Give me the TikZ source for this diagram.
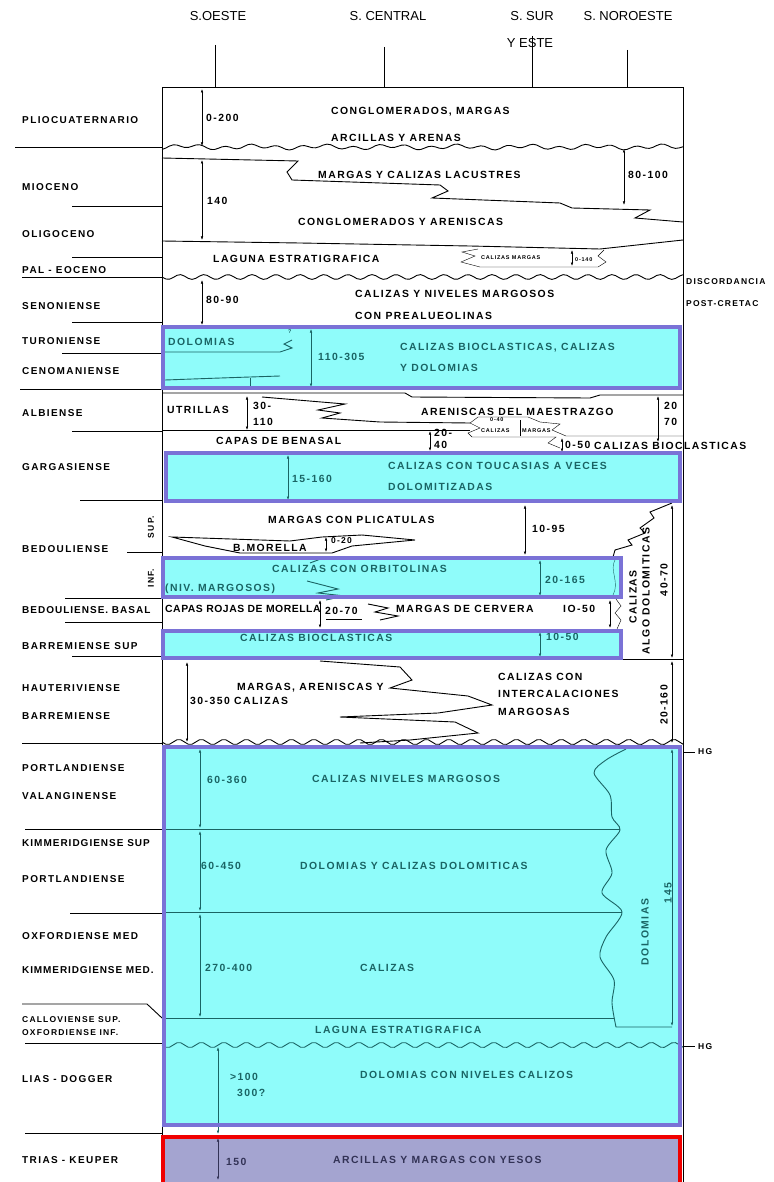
\documentclass[tikz,border=0pt]{standalone}
\usepackage{fontspec}
\setmainfont[LetterSpace=14]{Liberation Sans}
\newfontfamily\hdfam{Liberation Sans}
\usepackage{tikz}
\usetikzlibrary{arrows.meta, calc}

\definecolor{cyanfill}{RGB}{143,252,250}
\definecolor{boxline}{RGB}{122,114,214}
\definecolor{tealink}{RGB}{26,100,100}
\definecolor{lavfill}{RGB}{164,164,208}
\definecolor{lavink}{RGB}{50,50,85}
\definecolor{redline}{RGB}{240,0,0}

\newcommand{\hdfont}{\hdfam\fontsize{13}{15}\selectfont}
\newcommand{\lbfont}{\bfseries\fontsize{10}{12}\selectfont}
\newcommand{\txfont}{\bfseries\fontsize{10.4}{12}\selectfont}
\newcommand{\smfont}{\bfseries\fontsize{8.5}{10}\selectfont}
\newcommand{\mnfont}{\bfseries\fontsize{5.5}{6}\selectfont}
\newcommand{\tight}[1]{\addfontfeature{LetterSpace=#1}}

\tikzset{
  hdr/.style={inner sep=0pt, font=\hdfont},
  stage/.style={anchor=west, inner sep=0pt, font=\lbfont},
  lith/.style={anchor=west, inner sep=0pt, font=\txfont},
  minor/.style={anchor=west, inner sep=0pt, font=\mnfont},
  vlab/.style={inner sep=0pt, rotate=90, font=\txfont},
  bound/.style={line width=0.9pt},
  dim/.style={{Latex[length=3.5pt,width=2.4pt]}-{Latex[length=3.5pt,width=2.4pt]}, line width=0.5pt},
  inbox/.style={color=tealink},
  cline/.style={draw=boxline, line width=3.6pt},
}

\begin{document}
\begin{tikzpicture}[x=1pt,y=-1pt]
  \useasboundingbox (0,0) rectangle (773,1182);
  % column headers
  \node[hdr] (hOeste) at (218,16) {S.OESTE};
  \node[hdr] (hCentral) at (388,16) {S. CENTRAL};
  \node[hdr] (hSur) at (532,16) {S. SUR};
  \node[hdr] (hEste) at (530,43) {Y ESTE};
  \node[hdr] (hNoro) at (628,16) {S. NOROESTE};
  \draw (215,45) -- (215,87);
  \draw (384,47) -- (384,87);
  \draw (532,36) -- (532,87);
  \draw (627,50) -- (627,87);

  % coloured bands (fill only)
  \fill[cyanfill] (163,327) rectangle (680,388);
  \fill[cyanfill] (166,453) rectangle (680,501);
  \fill[cyanfill] (163,558) rectangle (621,597);
  \fill[cyanfill] (163,631) rectangle (621,658);
  \fill[cyanfill] (164,747) rectangle (680,1125);
  \fill[lavfill] (163,1137) rectangle (680,1190);

  % frame
  \coordinate (fTL) at (162,87);
  \coordinate (fTR) at (683,87);
  \draw[bound] (162,1182) -- (fTL) -- (fTR) -- (683,1182);

  % stage names and their lines
  \node[stage] (sPlio) at (22,120) {PLIOCUATERNARIO};
  \node[stage] (sMio) at (22,187) {MIOCENO};
  \node[stage] (sOli) at (22,234) {OLIGOCENO};
  \node[stage] (sPal) at (22,270) {PAL - EOCENO};
  \node[stage] (sSen) at (22,306) {SENONIENSE};
  \node[stage] (sTur) at (22,341) {TURONIENSE};
  \node[stage] (sCen) at (22,371) {CENOMANIENSE};
  \node[stage] (sAlb) at (22,413) {ALBIENSE};
  \node[stage] (sGar) at (22,467) {GARGASIENSE};
  \node[stage] (sBed) at (22,549) {BEDOULIENSE};
  \node[stage, font=\lbfont\tight{10}] (sBedB) at (22,610) {BEDOULIENSE. BASAL};
  \node[stage] (sBarS) at (22,646) {BARREMIENSE SUP};
  \node[stage] (sHau) at (22,688) {HAUTERIVIENSE};
  \node[stage] (sBar) at (22,716) {BARREMIENSE};
  \node[stage] (sPor) at (22,768) {PORTLANDIENSE};
  \node[stage] (sVal) at (22,796) {VALANGINENSE};
  \node[stage, font=\lbfont\tight{10}] (sKimS) at (22,843) {KIMMERIDGIENSE SUP};
  \node[stage] (sPor2) at (22,879) {PORTLANDIENSE};
  \node[stage] (sOxM) at (22,936) {OXFORDIENSE MED};
  \node[stage, font=\lbfont\tight{9}] (sKimM) at (22,970) {KIMMERIDGIENSE MED.};
  \node[stage, font=\smfont] (sCal) at (22,1020) {CALLOVIENSE SUP.};
  \node[stage, font=\smfont] (sOxI) at (22,1033) {OXFORDIENSE INF.};
  \node[stage] (sLias) at (22,1079) {LIAS - DOGGER};
  \node[stage] (sTrias) at (22,1160) {TRIAS - KEUPER};
  \node[vlab, font=\smfont] (sSup) at (151,527) {SUP.};
  \node[vlab, font=\smfont] (sInf) at (151,578) {INF.};
  \draw[bound] (15,147) -- (162,147);
  \draw[bound] (72,206) -- (162,206);
  \draw[bound] (72,257) -- (162,257);
  \draw[bound] (22,277) -- (162,277);
  \draw[bound] (72,322) -- (162,322);
  \draw[bound] (62,353) -- (162,353);
  \draw[bound] (20,389) -- (162,389);
  \draw[bound] (72,431) -- (162,431);
  \draw[bound] (80,500) -- (162,500);
  \draw[bound] (127,552) -- (162,552);
  \draw[bound] (65,598) -- (162,598);
  \draw[bound] (65,622) -- (162,622);
  \draw[bound] (72,656) -- (162,656);
  \draw[bound] (22,743) -- (162,743);
  \draw[bound] (25,829) -- (162,829);
  \draw[bound] (70,913) -- (162,913);
  \draw[bound] (22,1004) -- (147,1004) -- (162,1018);
  \draw[bound] (25,1043) -- (162,1043);
  \draw[bound] (25,1133) -- (162,1133);

  % Pliocuaternario
  \draw[dim] (202,89) -- (202,146);
  \node[lith] (tPlioA) at (206,118) {0-200};
  \node[lith] (tPlioB) at (331,112) {CONGLOMERADOS, MARGAS};
  \node[lith] (tPlioC) at (331,138) {ARCILLAS Y ARENAS};
  \draw[bound] plot[domain=162:683, samples=140] (\x, {147+1.8*sin(14*\x)+1.2*sin(5.3*\x)});

  % Mioceno - Oligoceno
  \node[lith] (tMioA) at (318,175) {MARGAS Y CALIZAS LACUSTRES};
  \node[lith] (tMioB) at (298,222) {CONGLOMERADOS Y ARENISCAS};
  \node[lith] (tMioC) at (207,201) {140};
  \node[lith] (tMioD) at (628,175) {80-100};
  \draw[bound] (162,158) -- (298,161) -- (287,172) -- (292,180) -- (440,185)
    -- (448,191) -- (432,198) -- (560,203) -- (572,208) -- (650,210)
    -- (635,218) -- (683,222);
  \draw[dim] (202,160) -- (202,240);
  \draw[dim] (624,149) -- (624,205);

  % laguna paleogena
  \draw[bound] (162,241) -- (300,243) -- (470,246) -- (600,249) -- (683,240);
  \node[lith] (tLagA) at (213,259) {LAGUNA ESTRATIGRAFICA};
  \draw (478,249) -- (462,252) -- (475,256) -- (461,262) -- (480,267)
    -- (598,267) -- (606,262) -- (598,256) -- (604,250);
  \draw[dim] (572,250) -- (572,266);
  \node[minor] (tLagB) at (481,258) {CALIZAS MARGAS};
  \node[minor] (tLagC) at (575,260) {0-140};
  \draw[bound] plot[domain=162:683, samples=140] (\x, {277+2.4*sin(15*(\x-162))});
  \node[lith, font=\smfont] (tDisA) at (686,282) {DISCORDANCIA};
  \node[lith, font=\smfont] (tDisB) at (686,304) {POST-CRETAC};

  % Senoniense
  \draw[dim] (202,280) -- (202,325);
  \node[lith] (tSenA) at (206,300) {80-90};
  \node[lith] (tSenB) at (355,294) {CALIZAS Y NIVELES MARGOSOS};
  \node[lith] (tSenC) at (355,316) {CON PREALUEOLINAS};

  % Turoniense - Cenomaniense
  \begin{scope}[inbox]
    \node[lith] (tTurA) at (168,342) {DOLOMIAS};
    \draw[bound] (165,352) -- (280,352) -- (292,348) -- (284,344) -- (292,340);
    \node[minor] (tTurQ) at (288,332) {?};
    \draw[bound] (165,380) .. controls (220,378) .. (280,376);
    \draw (250,378) -- (250,389);
    \draw[dim] (311,329) -- (311,387);
    \node[lith] (tTurB) at (318,357) {110-305};
    \node[lith] (tTurC) at (400,348) {CALIZAS BIOCLASTICAS, CALIZAS};
    \node[lith] (tTurD) at (400,368) {Y DOLOMIAS};
  \end{scope}

  % Albiense
  \draw[bound] (162,393) -- (405,393) -- (412,397) -- (590,398) -- (600,395) -- (683,395);
  \node[lith] (tAlbA) at (167,410) {UTRILLAS};
  \draw[dim] (247,396) -- (247,430);
  \node[lith] (tAlbB) at (253,406) {30-};
  \node[lith] (tAlbC) at (253,422) {110};
  \draw[bound] (262,397) -- (345,404) -- (318,410) -- (340,413) -- (322,418)
    -- (380,422) -- (470,423);
  \node[lith] (tAlbD) at (421,412) {ARENISCAS DEL MAESTRAZGO};
  \draw[dim] (658,396) -- (658,442);
  \node[lith] (tAlbE) at (664,406) {20};
  \node[lith] (tAlbF) at (664,422) {70};
  \draw[bound] (162,430) -- (470,430);
  \node[lith] (tAlbG) at (216,441) {CAPAS DE BENASAL};
  \draw[dim] (430,431) -- (430,451);
  \node[lith] (tAlbH) at (434,433) {20-};
  \node[lith] (tAlbI) at (434,445) {40};
  \draw (478,417) -- (528,417) -- (540,422) -- (560,424) -- (552,430)
    -- (566,436) -- (683,436);
  \draw (478,417) -- (470,423) -- (480,428) -- (468,433) -- (472,437) -- (556,437)
    -- (548,443) -- (560,448);
  \draw (520,420) -- (520,436);
  \node[minor] (tAlbJ) at (490,420) {0-40};
  \node[minor] (tAlbK) at (481,431) {CALIZAS};
  \node[minor] (tAlbL) at (522,431) {MARGAS};
  \draw[dim] (562,438) -- (562,452);
  \node[lith] (tAlbM) at (565,445) {0-50};
  \node[lith] (tAlbN) at (594,446) {CALIZAS BIOCLASTICAS};

  % Gargasiense
  \begin{scope}[inbox]
    \draw[dim] (288,455) -- (288,500);
    \node[lith] (tGarA) at (292,479) {15-160};
    \node[lith] (tGarB) at (388,466) {CALIZAS CON TOUCASIAS A VECES};
    \node[lith] (tGarC) at (388,487) {DOLOMITIZADAS};
  \end{scope}

  % Bedouliense superior
  \node[lith] (tBedA) at (268,520) {MARGAS CON PLICATULAS};
  \draw[dim] (525,505) -- (525,555);
  \node[lith] (tBedB) at (532,529) {10-95};
  \draw[bound] (172,537) -- (290,541) -- (322,537) -- (362,535) -- (415,540)
    -- (352,546) -- (332,553) -- (240,553) -- (205,546) -- cycle;
  \node[lith] (tBedC) at (233,548) {B.MORELLA};
  \draw[dim] (326,537) -- (326,552);
  \node[lith, font=\smfont] (tBedD) at (331,541) {0-20};

  % calizas algo dolomiticas (right side)
  \draw[bound] (672,503) -- (650,512) -- (654,518) -- (640,528) -- (645,533)
    -- (628,540) -- (632,545) -- (615,550) -- (613,557);
  \draw (616,599) -- (621,606) -- (615,613) -- (621,620) -- (617,629);
  \node[vlab] (tAlgA) at (633,597) {CALIZAS};
  \node[vlab] (tAlgB) at (646,591) {ALGO DOLOMITICAS};
  \node[vlab] (tAlgC) at (664,580) {40-70};
  \draw[dim] (672,505) -- (672,658);
  \draw[bound] (622,659) -- (683,659);
  \draw[dim] (672,661) -- (672,743);
  \node[vlab] (tAlgD) at (664,705) {20-160};

  % Bedouliense inferior
  \begin{scope}[inbox]
    \node[lith] (tOrbA) at (272,569) {CALIZAS CON ORBITOLINAS};
    \node[lith] (tOrbB) at (165,589) {(NIV. MARGOSOS)};
    \draw[bound] (312,557) -- (318,560) -- (310,563);
    \draw[bound] (307,581) -- (338,589) -- (318,593) -- (345,596) -- (326,600);
    \draw[dim] (540,560) -- (540,596);
    \node[lith] (tOrbC) at (545,580) {20-165};
    \draw (615,560) .. controls (609,570) and (620,582) .. (613,595);
  \end{scope}

  % Bedouliense basal
  \node[lith, font=\txfont\tight{5}] (tBasA) at (165,609) {CAPAS ROJAS DE MORELLA};
  \draw[dim] (320,600) -- (320,628);
  \node[lith] (tBasB) at (325,611) {20-70};
  \draw (326,619) -- (362,619);
  \draw[bound] (368,604) -- (388,608) -- (375,612) -- (398,616) -- (380,620);
  \node[lith] (tBasC) at (396,609) {MARGAS DE CERVERA};
  \node[lith] (tBasD) at (563,609) {IO-50};
  \draw[dim] (610,600) -- (610,628);

  % Barremiense superior
  \begin{scope}[inbox]
    \node[lith] (tBsA) at (240,638) {CALIZAS BIOCLASTICAS};
    \draw[dim] (540,632) -- (540,657);
    \node[lith] (tBsB) at (546,637) {10-50};
  \end{scope}

  % Hauteriviense - Barremiense
  \draw[dim] (187,662) -- (187,742);
  \node[lith] (tHauA) at (237,688) {MARGAS, ARENISCAS Y};
  \node[lith] (tHauB) at (190,701) {30-350 CALIZAS};
  \draw[bound] (320,661) -- (400,667) -- (412,680) -- (390,688) -- (468,696)
    -- (492,705) -- (438,713) -- (340,717) -- (455,722) -- (478,733)
    -- (410,740) -- (360,743);
  \node[lith] (tHauC) at (498,677) {CALIZAS CON};
  \node[lith] (tHauD) at (498,694) {INTERCALACIONES};
  \node[lith] (tHauE) at (498,712) {MARGOSAS};
  \draw[bound] plot[domain=162:683, samples=140] (\x, {742+2.6*sin(16*(\x-162))});
  \draw (683,752) -- (695,752);
  \node[minor, font=\smfont] (tHgA) at (698,752) {HG};

  % Jurasico
  \begin{scope}[inbox]
    \draw[dim] (200,749) -- (200,828);
    \node[lith] (tJurA) at (207,780) {60-360};
    \node[lith] (tJurB) at (312,779) {CALIZAS NIVELES MARGOSOS};
    \draw[bound] (162,829) -- (620,829);
    \draw[dim] (200,831) -- (200,911);
    \node[lith] (tJurC) at (201,866) {60-450};
    \node[lith] (tJurD) at (300,866) {DOLOMIAS Y CALIZAS DOLOMITICAS};
    \draw[bound] (162,912) -- (622,912);
    \draw[dim] (200,914) -- (200,1017);
    \node[lith] (tJurE) at (205,968) {270-400};
    \node[lith] (tJurF) at (360,968) {CALIZAS};
    \draw[bound] (162,1018) -- (614,1018);
    \draw[bound] plot[smooth] coordinates {(626,749) (606,760) (594,773) (610,795)
      (612,817) (620,830) (606,850) (612,873) (602,893) (622,912) (606,937)
      (600,957) (614,980) (612,1003) (616,1027)} -- (672,1027);
    \node[vlab] (tJurG) at (645,932) {DOLOMIAS};
    \node[vlab] (tJurH) at (668,893) {145};
    \draw[dim] (672,749) -- (672,1026);
    \node[lith] (tJurI) at (315,1030) {LAGUNA ESTRATIGRAFICA};
    \draw[bound] plot[domain=162:683, samples=140] (\x, {1045+2.6*sin(16*(\x-162))});
    \draw[dim] (218,1047) -- (218,1134);
    \node[lith] (tJurJ) at (230,1077) {>100};
    \node[lith] (tJurK) at (237,1093) {300?};
    \node[lith] (tJurL) at (360,1075) {DOLOMIAS CON NIVELES CALIZOS};
  \end{scope}
  \draw (683,1046) -- (695,1046);
  \node[minor, font=\smfont] (tHgB) at (698,1047) {HG};

  % Trias - Keuper
  \begin{scope}[lavink]
    \draw[dim] (218,1138) -- (218,1180);
    \node[lith] (tTriA) at (226,1162) {150};
    \node[lith] (tTriB) at (333,1160) {ARCILLAS Y MARGAS CON YESOS};
  \end{scope}

  % band borders
  \draw[cline] (163,327) rectangle (680,388);
  \draw[cline] (166,453) rectangle (680,501);
  \draw[cline] (163,558) rectangle (621,597);
  \draw[cline] (163,631) rectangle (621,658);
  \draw[cline] (164,747) rectangle (680,1125);
  \draw[draw=redline, line width=4pt] (163,1137) rectangle (680,1190);
\end{tikzpicture}
\end{document}
